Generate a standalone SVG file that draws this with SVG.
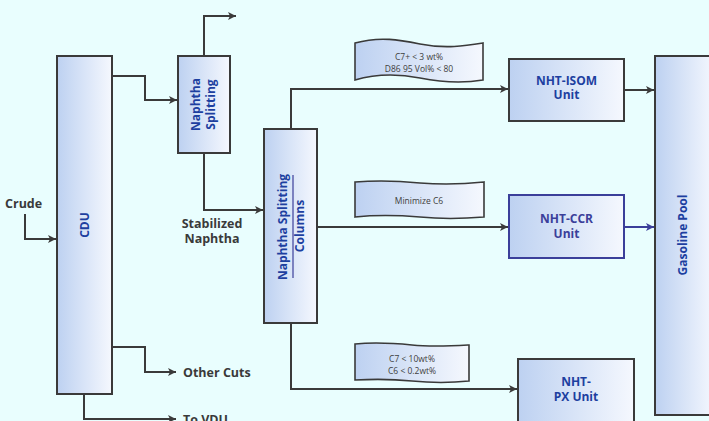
<svg xmlns="http://www.w3.org/2000/svg" width="709" height="421" viewBox="0 0 709 421">
<defs>
<linearGradient id="g" x1="0" y1="0" x2="1" y2="0">
<stop offset="0" stop-color="#bdd1f1"/>
<stop offset="1" stop-color="#f5f8fe"/>
</linearGradient>
<marker id="a" markerUnits="userSpaceOnUse" markerWidth="9" markerHeight="9" refX="8" refY="4.5" orient="auto">
<path d="M0,0.5 L8,4.5 L0,8.5 L2,4.5 z" fill="#3a3a3a"/>
</marker>
<marker id="ab" markerUnits="userSpaceOnUse" markerWidth="9" markerHeight="9" refX="8" refY="4.5" orient="auto">
<path d="M0,0.5 L8,4.5 L0,8.5 L2,4.5 z" fill="#3b3f9a"/>
</marker>
</defs>
<style>
.box{fill:url(#g);stroke:#3a3a3a;stroke-width:2}
.bbox{fill:url(#g);stroke:#3b3f9a;stroke-width:2}
.flag{fill:url(#g);stroke:#3a3a3a;stroke-width:1.6}
.c{fill:none;stroke:#3a3a3a;stroke-width:2;marker-end:url(#a)}
.cb{fill:none;stroke:#3b3f9a;stroke-width:2;marker-end:url(#ab)}
.nt{font-family:"Open Sans","DejaVu Sans",sans-serif;font-weight:bold;font-size:12px;fill:#1d3fa0;text-anchor:middle}
.lt{font-family:"Open Sans","DejaVu Sans",sans-serif;font-weight:bold;font-size:12.5px;fill:#3a3a3a}
.ft{font-family:"Open Sans","DejaVu Sans",sans-serif;font-size:8.5px;fill:#404040;text-anchor:middle}
</style>
<rect width="709" height="421" fill="#e9fefe"/>
<g id="connectors">
<path class="c" d="M25,214 V239 H56"/>
<path class="c" d="M112,76 H145 V100 H177"/>
<path class="c" d="M204,56 V16 H236"/>
<path class="c" d="M204,153 V210 H263"/>
<path class="c" d="M291,129 V89 H508"/>
<path class="c" d="M317,227 H508"/>
<path class="c" d="M291,323 V389 H517"/>
<path class="c" d="M624,90 H654"/>
<path class="cb" d="M624,227 H654"/>
<path class="c" d="M112,347 H145 V372 H176"/>
<path class="c" d="M84,394 V419 H176"/>
</g>
<g id="cdu">
<rect class="box" x="57" y="56" width="55" height="338"/>
<text class="nt" transform="translate(89,225) rotate(-90)">CDU</text>
</g>
<g id="naphtha-splitting">
<rect class="box" x="178" y="56" width="52" height="97"/>
<text class="nt" transform="translate(200,104.5) rotate(-90)">Naphtha</text>
<text class="nt" transform="translate(215,104.5) rotate(-90)">Splitting</text>
</g>
<g id="naphtha-splitting-columns">
<rect class="box" x="264" y="129" width="53" height="194"/>
<text class="nt" transform="translate(287,227) rotate(-90)">Naphtha Splitting</text>
<line x1="293" y1="175" x2="293" y2="278" stroke="#3b3f9a" stroke-width="1.2"/>
<text class="nt" transform="translate(304,226) rotate(-90)">Columns</text>
</g>
<g id="nht-isom">
<rect class="box" x="509" y="59" width="115" height="62"/>
<text class="nt" x="566.5" y="85">NHT-ISOM</text>
<text class="nt" x="566.5" y="99">Unit</text>
</g>
<g id="nht-ccr">
<rect class="bbox" x="509" y="195" width="115" height="63"/>
<text class="nt" x="566.5" y="223" style="fill:#3b3f9a">NHT-CCR</text>
<text class="nt" x="566.5" y="238" style="fill:#3b3f9a">Unit</text>
</g>
<g id="nht-px">
<rect class="box" x="518" y="359" width="116" height="63"/>
<text class="nt" x="576" y="386">NHT-</text>
<text class="nt" x="576" y="401">PX Unit</text>
</g>
<g id="gasoline-pool">
<rect class="box" x="655" y="56" width="60" height="359"/>
<text class="nt" transform="translate(687,235) rotate(-90)">Gasoline Pool</text>
</g>
<g id="flag1">
<path class="flag" d="M355,43 C380,36 400,40 420,44 C445,49 465,46 483,43 V80 C460,84 440,82 420,78 C395,73 375,74 355,80 Z"/>
<text class="ft" x="419" y="60">C7+ &lt; 3 wt%</text>
<text class="ft" x="419" y="71.5">D86 95 Vol% &lt; 80</text>
</g>
<g id="flag2">
<path class="flag" d="M355,182 C380,180 400,181 420,183 C445,185 465,184 484,182 V217 C460,219 440,219 420,217 C395,215 375,215 355,217 Z"/>
<text class="ft" x="419" y="204">Minimize C6</text>
</g>
<g id="flag3">
<path class="flag" d="M355,344 C375,342 392,343 412,345 C432,347 450,346 469,345 V381 C450,383 432,383 412,381 C392,379 375,379 355,380 Z"/>
<text class="ft" x="412" y="362">C7 &lt; 10wt%</text>
<text class="ft" x="412" y="373.5">C6 &lt; 0.2wt%</text>
</g>
<g id="labels">
<text class="lt" x="5" y="208">Crude</text>
<text class="lt" x="212" y="228" text-anchor="middle">Stabilized</text>
<text class="lt" x="212" y="243" text-anchor="middle">Naphtha</text>
<text class="lt" x="183" y="377">Other Cuts</text>
<text class="lt" x="183" y="424">To VDU</text>
</g>
</svg>
